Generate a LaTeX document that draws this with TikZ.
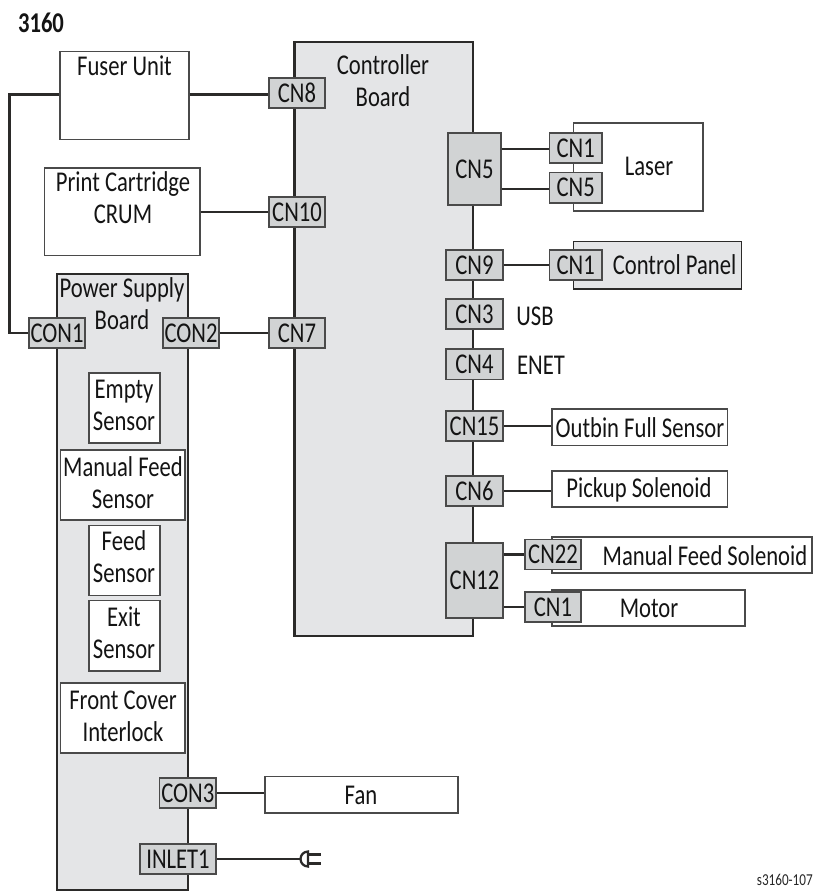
\documentclass[tikz,border=0pt]{standalone}
\usepackage{fontspec}
\setmainfont[FakeStretch=0.79]{Carlito}
\definecolor{boardgray}{HTML}{E4E5E7}
\definecolor{conngray}{HTML}{D1D3D4}
\definecolor{linedark}{HTML}{2B2A29}
\definecolor{linemid}{HTML}{4A4A4A}
\newcommand{\bx}[7]{%
  \pgfmathsetmacro{\bxw}{(#5-#3)*0.75}\pgfmathsetmacro{\bxh}{(#6-#4)*0.75}%
  \node[#2,minimum width=\bxw pt,minimum height=\bxh pt] (#1) at ({(#3+#5)/2},{(#4+#6)/2}) {#7};}
\tikzset{
  lbl/.style={font=\fontsize{21.5}{24}\selectfont,text=black!92,inner sep=0pt,align=center},
  whitebox/.style={lbl,draw=linemid,line width=1pt,fill=white},
  board/.style={lbl,draw=linedark,line width=2pt,fill=boardgray},
  panel/.style={lbl,draw=linedark,line width=1pt,fill=boardgray},
  conn/.style={lbl,draw=linemid,line width=1pt,fill=conngray},
  wire/.style={draw=linedark,line width=1.9pt},
  thinwire/.style={draw=linedark,line width=1.7pt}
}
\begin{document}
\begin{tikzpicture}[x=0.75pt,y=-0.75pt]
\useasboundingbox (0,0) rectangle (814,891);
\node[font=\bfseries\fontsize{21.5}{24}\selectfont,text=black!92,inner sep=0pt] (title) at (41,23) {3160};
% boards
\bx{ctrl}{board}{294.5}{42}{473}{636}{}
\bx{psu}{board}{57}{274}{188}{890}{}
\node[lbl] (ctrllbl) at (383,81) {Controller\\Board};
\node[lbl] (psulbl) at (122,303.5) {Power Supply\\Board};
% left boxes
\bx{fuser}{whitebox}{60}{51.7}{189}{139.3}{}
\node[lbl] (fuserlbl) at (124.5,66) {Fuser Unit};
\bx{crum}{whitebox}{44.5}{168}{200}{255.5}{}
\node[lbl] (crumlbl) at (123,198) {Print Cartridge\\CRUM};
% inner boxes of the power supply
\bx{empty}{whitebox}{89}{373}{160}{443}{}
\node[lbl] (emptylbl) at (124,405) {Empty\\Sensor};
\bx{manual}{whitebox}{60.7}{450}{185}{520}{}
\node[lbl] (manuallbl) at (123,483) {Manual Feed\\Sensor};
\bx{feed}{whitebox}{89}{525.5}{160}{595.5}{}
\node[lbl] (feedlbl) at (124,557) {Feed\\Sensor};
\bx{exit}{whitebox}{89}{600.5}{160}{671}{}
\node[lbl] (exitlbl) at (124,633) {Exit\\Sensor};
\bx{front}{whitebox}{60.7}{683}{185}{753}{}
\node[lbl] (frontlbl) at (123,716) {Front Cover\\Interlock};
% right boxes
\bx{laser}{whitebox}{573.5}{123}{703}{211}{}
\node[lbl] (laserlbl) at (649,166) {Laser};
\bx{cpanel}{panel}{573.5}{241.5}{741.5}{289}{}
\node[lbl] (cpanellbl) at (674.5,265) {Control Panel};
\bx{outbin}{whitebox}{552}{409}{727.5}{445.5}{}
\node[lbl] (outbinlbl) at (640,428) {Outbin Full Sensor};
\bx{pickup}{whitebox}{552}{471}{727.5}{507}{}
\node[lbl] (pickuplbl) at (639,490) {Pickup Solenoid};
\bx{msol}{whitebox}{552}{537}{812}{573}{}
\node[lbl] (msollbl) at (705,555.5) {Manual Feed Solenoid};
\bx{motor}{whitebox}{552}{590}{745}{626}{}
\node[lbl] (motorlbl) at (649,608) {Motor};
\bx{fan}{whitebox}{265}{776.5}{458}{813}{}
\node[lbl] (fanlbl) at (361,795) {Fan};
% connectors
\bx{cn8}{conn}{269}{78}{325}{108}{CN8}
\bx{cn10}{conn}{269}{197}{325}{227}{CN10}
\bx{cn7}{conn}{269}{318}{325}{348}{CN7}
\bx{con1}{conn}{29}{318}{85}{348}{CON1}
\bx{con2}{conn}{163}{318}{219}{348}{CON2}
\bx{con3}{conn}{159.5}{778}{216}{808}{CON3}
\bx{inlet}{conn}{140}{844}{216}{874}{INLET1}
\bx{cfive}{conn}{448}{133}{501}{205}{CN5}
\bx{lone}{conn}{549.5}{133}{602}{163}{CN1}
\bx{lfive}{conn}{549.5}{172.5}{602}{203}{CN5}
\bx{cnine}{conn}{446}{250}{503}{280}{CN9}
\bx{pone}{conn}{549.5}{250}{602}{280}{CN1}
\bx{cthree}{conn}{446}{299}{503}{329}{CN3}
\node[lbl] (usb) at (535,316.5) {USB};
\bx{cfour}{conn}{446}{349}{503}{379.5}{CN4}
\node[lbl] (enet) at (541,365) {ENET};
\bx{cfifteen}{conn}{446}{411}{503}{441}{CN15}
\bx{csix}{conn}{446}{476}{503}{506}{CN6}
\bx{ctwelve}{conn}{446}{543}{503}{618}{CN12}
\bx{ctwentytwo}{conn}{525}{539.5}{581}{569.5}{CN22}
\bx{mone}{conn}{525}{592}{581}{622}{CN1}
\node[font=\fontsize{12.5}{14}\selectfont,text=black!85,inner sep=0pt,anchor=base east] (ref) at (813,885) {s3160-107};
% wires
\draw[wire] (fuser.west |- 0,94.5) -- (9.5,94.5) |- (con1.west);
\draw[wire] (fuser.east |- 0,94.5) -- (cn8.west |- 0,94.5);
\draw[thinwire] (crum.east |- cn10.west) -- (cn10.west);
\draw[wire] (con2.east) -- (cn7.west);
\draw[wire] (cfive.east |- 0,149) -- (lone.west |- 0,149);
\draw[wire] (cfive.east |- 0,189) -- (lfive.west |- 0,189);
\draw[thinwire] (cnine.east) -- (pone.west);
\draw[thinwire] (cfifteen.east) -- (outbin.west |- cfifteen.east);
\draw[thinwire] (csix.east) -- (pickup.west |- csix.east);
\draw[thinwire] (ctwelve.east |- ctwentytwo.west) -- (ctwentytwo.west);
\draw[thinwire] (ctwelve.east |- mone.west) -- (mone.west);
\draw[thinwire] (con3.east) -- (fan.west |- con3.east);
% mains plug
\coordinate (plug) at (300,859);
\draw[thinwire] (inlet.east) -- (plug);
\draw[thinwire] (308,851.5) arc[start angle=-90,end angle=-270,radius=7.5] -- cycle;
\draw[thinwire] (308,854.5) -- (321,854.5) (308,863.5) -- (321,863.5);
\end{tikzpicture}
\end{document}
